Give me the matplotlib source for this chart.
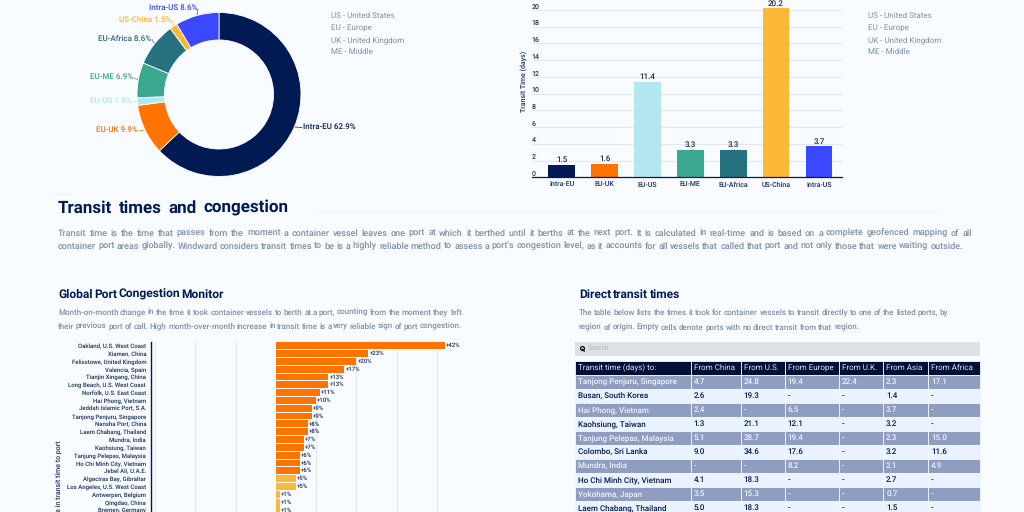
#! /usr/bin/env python

# Container shipping dashboard: trade mix, transit times, port congestion.

import matplotlib
matplotlib.use('Agg')
import matplotlib.pyplot as plt
import numpy as np

plt.rcParams['font.family'] = ['Roboto', 'DejaVu Sans']
plt.rcParams['text.hinting'] = 'no_hinting'
plt.rcParams['text.hinting_factor'] = 1

W, H = 1024, 512
BG = '#F8FBFF'
NAVY = '#021A54'
INK = '#1C2E5C'
GREY = '#7E90AC'
GRID = '#E3E8EF'

trades = ['Intra-EU', 'EU-UK', 'EU-US', 'EU-ME', 'EU-Africa', 'US-China', 'Intra-US']
trade_colors = ['#021A54', '#FF7300', '#B2E7F0', '#3BA78F', '#26717F', '#FBB836', '#3A48FF']
share = [62.9, 9.9, 1.5, 6.9, 8.6, 1.5, 8.6]
days = [1.5, 1.6, 11.4, 3.3, 3.3, 20.2, 3.7]
abbrev = ['US - United States', 'EU - Europe', 'UK - United Kingdom', 'ME - Middle']

ports = ['Oakland, U.S. West Coast', 'Xiamen, China', 'Felixstowe, United Kingdom',
         'Valencia, Spain', 'Tianjin Xingang, China', 'Long Beach, U.S. West Coast',
         'Norfolk, U.S. East Coast', 'Hai Phong, Vietnam', 'Jeddah Islamic Port, S.A.',
         'Tanjong Penjuru, Singapore', 'Nansha Port, China', 'Laem Chabang, Thailand',
         'Mundra, India', 'Kaohsiung, Taiwan', 'Tanjung Pelepas, Malaysia',
         'Ho Chi Minh City, Vietnam', 'Jebel Ali, U.A.E.', 'Algeciras Bay, Gibraltar',
         'Los Angeles, U.S. West Coast', 'Antwerpen, Belgium', 'Qingdao, China',
         'Bremen, Germany']
change = [42, 23, 20, 17, 13, 13, 11, 10, 9, 9, 8, 8, 7, 7, 6, 6, 6, 5, 5, 1, 1, 1]

table_head = ['Transit time (days) to:', 'From China', 'From U.S.', 'From Europe',
              'From U.K.', 'From Asia', 'From Africa']
table_rows = [
    ['Tanjong Penjuru, Singapore', '4.7', '24.8', '19.4', '22.4', '2.3', '17.1'],
    ['Busan, South Korea', '2.6', '19.3', '-', '-', '1.4', '-'],
    ['Hai Phong, Vietnam', '2.4', '-', '6.5', '-', '3.7', '-'],
    ['Kaohsiung, Taiwan', '1.3', '21.1', '12.1', '-', '3.2', '-'],
    ['Tanjung Pelepas, Malaysia', '5.1', '28.7', '19.4', '-', '2.3', '15.0'],
    ['Colombo, Sri Lanka', '9.0', '34.6', '17.6', '-', '3.2', '11.6'],
    ['Mundra, India', '-', '-', '8.2', '-', '2.1', '4.9'],
    ['Ho Chi Minh City, Vietnam', '4.1', '18.3', '-', '-', '2.7', '-'],
    ['Yokohama, Japan', '3.5', '15.3', '-', '-', '0.7', '-'],
    ['Laem Chabang, Thailand', '5.0', '18.3', '-', '-', '1.5', '-'],
]
col_edges = [575, 691, 741, 785, 839.3, 883.3, 928.3, 980]


def px_axes(x0, y0, x1, y1, **kw):
    # Axes placed by pixel box, y measured from the top.
    return fig.add_axes([x0 / W, 1 - y1 / H, (x1 - x0) / W, (y1 - y0) / H], **kw)


def spread(x0, x1, y, s, size, color=GREY, weight='medium'):
    # Word-spaced line running from x0 to x1. y is the baseline row; the .49
    # keeps Agg's rounding from bumping single words up a pixel.
    words = s.split()
    rend = fig.canvas.get_renderer()
    widths = []
    for w in words:
        t = page.text(0, 0, w, fontsize=size, fontweight=weight)
        widths.append(t.get_window_extent(rend).width)
        t.remove()
    gap = (x1 - x0 - sum(widths)) / (len(words) - 1)
    x = x0
    for w, wd in zip(words, widths):
        page.text(x, y + 0.49, w, fontsize=size, color=color, fontweight=weight, va='baseline')
        x += wd + gap


fig = plt.figure(figsize=(W / 100, H / 100), dpi=100, facecolor=BG)

page = fig.add_axes([0, 0, 1, 1])
page.set_xlim(0, W)
page.set_ylim(H, 0)
page.axis('off')

# Donut of voyage share per trade

donut = px_axes(137, 12.5, 301, 176.5)
wedges, _ = donut.pie(share, colors=trade_colors, startangle=90, counterclock=False,
                      radius=1, wedgeprops=dict(width=0.335, edgecolor='white', linewidth=0.6))
donut.set_xlim(-1, 1)
donut.set_ylim(-1, 1)

label_xy = [(303, 126.5, 'left'), (138, 130, 'right'), (132, 100.5, 'right'), (133, 77, 'right'),
            (151, 38.5, 'right'), (171, 19.5, 'right'), (197, 8, 'right')]
for name, val, col, (lx, ly, ha), wedge in zip(trades, share, trade_colors, label_xy, wedges):
    page.text(lx, ly, '%s %.1f%%' % (name, val), color=col, fontsize=5.6, fontweight='medium',
              ha=ha, va='center')
    # Leader from the wedge midpoint on the rim to the label
    ang = np.radians((wedge.theta1 + wedge.theta2) / 2)
    rim = donut.transData.transform((np.cos(ang), np.sin(ang)))
    rx, ry = page.transData.inverted().transform(rim)
    page.plot([rx, lx + (-1 if ha == 'left' else 1)], [ry, ly + 1], color=col, lw=0.5,
              clip_on=False, zorder=1)

for y, s in zip([16, 28, 40, 52], abbrev):
    page.text(331, y, s, color=GREY, fontsize=5.75, va='center')
    page.text(868, y, s, color=GREY, fontsize=5.75, va='center')

# Transit time bars

ax = px_axes(531.7, 0, 841.7, 177.3)
ax.set_facecolor('none')
ax.bar(range(len(trades)), days, width=0.62, color=trade_colors, zorder=2)
for i, d in enumerate(days):
    ax.text(i, d + 0.15, '%.1f' % d, ha='center', va='bottom', fontsize=5.8, color='#222B3A',
            fontweight='medium', zorder=3)
ax.set_xlim(-0.70, 6.53)
ax.set_ylim(0, 21.2)
ax.set_yticks(range(0, 21, 2))
ax.set_xticks(range(len(trades)), trades)
ax.grid(axis='y', color=GRID, lw=0.8, zorder=0)
ax.tick_params(axis='both', length=0, labelsize=4.9, labelcolor=INK)
ax.tick_params(axis='x', pad=3)
ax.tick_params(axis='y', pad=0)
for lab in ax.get_xticklabels() + ax.get_yticklabels():
    lab.set_fontweight('medium')
for lab in ax.get_yticklabels():
    lab.set_ha('left')
    lab.set_va('bottom')
for s in ['top', 'left', 'right']:
    ax.spines[s].set_visible(False)
ax.spines['bottom'].set_color(NAVY)
ax.spines['bottom'].set_linewidth(0.9)
page.text(524, 81, 'Transit Time (days)', rotation=90, color=INK, fontsize=5.2, fontweight='medium',
          ha='center', va='center')

# Section heading and intro

page.plot([50, 70], [194, 194], color='#EEF2F8', lw=0.6)
page.plot([316, 940], [211, 211], color='#EEF2F8', lw=0.6)
spread(58, 288, 212, 'Transit times and congestion', 12.4, color=NAVY, weight='bold')
spread(58, 972, 235, 'Transit time is the time that passes from the moment a container vessel leaves one port '
       'at which it berthed until it berths at the next port. It is calculated in real-time and is based on '
       'a complete geofenced mapping of all', 6.6)
spread(58, 963, 248, "container port areas globally. Windward considers transit times to be is a highly reliable "
       "method to assess a port's congestion level, as it accounts for all vessels that called that port and "
       "not only those that were waiting outside.", 6.6)

spread(58, 224, 297, 'Global Port Congestion Monitor', 8.4, color=NAVY, weight='bold')
spread(58, 462, 314, 'Month-on-month change in the time it took container vessels to berth at a port, '
       'counting from the moment they left', 5.6)
spread(58, 462, 328, 'their previous port of call. High month-over-month increase in transit time is a very '
       'reliable sign of port congestion.', 5.6)

spread(579, 680, 297, 'Direct transit times', 8.4, color=NAVY, weight='bold')
spread(579, 948, 314, 'The table below lists the times it took for container vessels to transit directly to '
       'one of the listed ports, by', 5.6)
spread(579, 859, 329, 'region of origin. Empty cells denote ports with no direct transit from that region.', 5.6)

# Congestion bars, running off the bottom of the page

bx = px_axes(150.7, 342, 477, 512)
bx.set_facecolor('none')
bar_colors = ['#FF7300' if c > 5 else '#FBB836' for c in change]
ypos = list(range(len(change)))
bx.barh(ypos, change, height=0.88, color=bar_colors, zorder=2)
for y, c in zip(ypos, change):
    bx.text(c + 0.3, y, '+%d%%' % c, va='center', fontsize=4.5, color=INK, fontweight='medium', zorder=3)
bx.set_xlim(-31.1, 50)
bx.set_ylim(21.27, -0.47)
bx.set_xticks(range(-30, 51, 10))
bx.set_yticks(ypos, ports)
bx.grid(axis='x', color=GRID, lw=0.8, zorder=0)
bx.tick_params(axis='x', length=0, labelbottom=False)
bx.tick_params(axis='y', length=0, labelsize=4.5, labelcolor=INK, pad=3.3)
for lab in bx.get_yticklabels():
    lab.set_fontweight('medium')
for s in ['top', 'bottom', 'right']:
    bx.spines[s].set_visible(False)
bx.spines['left'].set_color(NAVY)
bx.spines['left'].set_linewidth(1)
page.text(59, 440, 'Change in transit time to port', rotation=90, color=INK, fontsize=5.3, fontweight='medium',
          ha='center', va='top')

# Search box and transit table

page.fill_between([575, 980], 342, 355.7, color='#DDE0E4', lw=0)
page.plot([581.5], [348.2], marker='o', ms=2.8, mfc='none', mec='#111111', mew=0.9)
page.plot([582.5, 584.2], [349.4, 351.1], color='#111111', lw=1)
page.text(588, 348.5, 'Search', color='#B4B8BE', fontsize=5.2, va='center')

tx = px_axes(575, 360.7, 980, 514.7)
tx.axis('off')
widths = [(b - a) / (col_edges[-1] - col_edges[0]) for a, b in zip(col_edges, col_edges[1:])]
tbl = tx.table(cellText=table_rows, colLabels=table_head, colWidths=widths, bbox=[0, 0, 1, 1],
               cellLoc='left', colLoc='left')
tbl.auto_set_font_size(False)
tbl.set_fontsize(5.5)
for (r, c), cell in tbl.get_celld().items():
    cell.PAD = 2.8 / (col_edges[c + 1] - col_edges[c])
    cell.set_linewidth(0.6)
    cell.set_edgecolor('#F2F6FC')
    if r == 0:
        cell.set_facecolor('#021038')
        cell.set_text_props(color='#DDE3EE')
    elif r % 2:
        cell.set_facecolor('#8F9DC1')
        cell.set_text_props(color='#EEF2F8', fontweight='medium')
    else:
        cell.set_facecolor('#EAF2FF')
        cell.set_text_props(color=NAVY, fontweight='medium')

fig.savefig('out.png', dpi=100, facecolor=BG)
